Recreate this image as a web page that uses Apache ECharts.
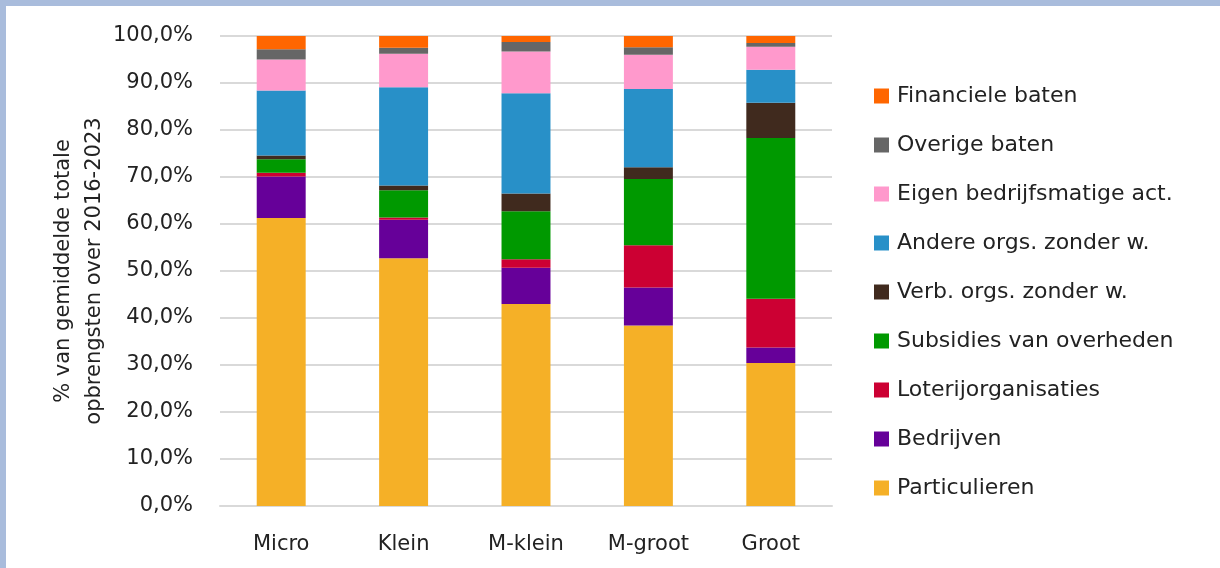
<!DOCTYPE html>
<html>
<head>
<meta charset="utf-8">
<script src="https://cdn.jsdelivr.net/npm/echarts@6/dist/echarts.min.js"></script>
<style>
html,body{margin:0;padding:0;background:#fff;}
#wrap{width:1220px;height:568px;box-sizing:border-box;border-top:6px solid #A9BCDC;border-left:6px solid #A9BCDC;position:relative;}
#chart{position:absolute;left:-6px;top:-6px;width:1220px;height:568px;}
</style>
</head>
<body>
<div id="wrap"><div id="chart"></div></div>
<script>
const categories = ['Micro', 'Klein', 'M-klein', 'M-groot', 'Groot'];
const particulieren = [61.3, 52.7, 43.0, 38.4, 30.4];
const bedrijven     = [8.8, 8.2, 7.7, 8.1, 3.3];
const loterij       = [0.8, 0.5, 1.8, 9.0, 10.4];
const subsidies     = [2.9, 5.8, 10.2, 14.1, 34.2];
const verbOrgs      = [0.8, 1.0, 3.8, 2.5, 7.5];
const andereOrgs    = [13.8, 20.9, 21.3, 16.6, 7.0];
const eigenAct      = [6.6, 7.1, 8.9, 7.3, 4.9];
const overige       = [2.2, 1.3, 2.0, 1.6, 0.8];
const financiele    = [2.8, 2.5, 1.3, 2.4, 1.5];
const yTicks = [0, 10, 20, 30, 40, 50, 60, 70, 80, 90, 100];

const seriesDefs = [
  ['Particulieren', particulieren, '#F5B027'],
  ['Bedrijven', bedrijven, '#660099'],
  ['Loterijorganisaties', loterij, '#CC0033'],
  ['Subsidies van overheden', subsidies, '#009900'],
  ['Verb. orgs. zonder w.', verbOrgs, '#402A1E'],
  ['Andere orgs. zonder w.', andereOrgs, '#2890C8'],
  ['Eigen bedrijfsmatige act.', eigenAct, '#FF99CC'],
  ['Overige baten', overige, '#666666'],
  ['Financiele baten', financiele, '#FF6600']
];

const font = 'DejaVu Sans';
const chart = echarts.init(document.getElementById('chart'));
chart.setOption({
  animation: false,
  backgroundColor: 'transparent',
  grid: { left: 220, right: 388, top: 36, bottom: 62, containLabel: false },
  legend: {
    orient: 'vertical',
    left: 869,
    top: 80,
    itemWidth: 15,
    itemHeight: 15,
    itemGap: 27,
    icon: 'rect',
    data: seriesDefs.map(s => s[0]).reverse(),
    textStyle: { fontFamily: font, fontSize: 22, color: '#222', padding: [0, 0, 0, 3] }
  },
  xAxis: {
    type: 'category',
    data: categories,
    axisLine: { show: true, lineStyle: { color: '#d9d9d9', width: 2 } },
    axisTick: { show: false },
    axisLabel: { fontFamily: font, fontSize: 21, color: '#222', margin: 28 }
  },
  yAxis: {
    type: 'value',
    min: yTicks[0],
    max: yTicks[yTicks.length - 1],
    interval: 10,
    name: '% van gemiddelde totale\nopbrengsten over 2016-2023',
    nameLocation: 'middle',
    nameGap: 110,
    nameMoveOverlap: false,
    nameRotate: 90,
    nameTextStyle: { fontFamily: font, fontSize: 21, color: '#222', lineHeight: 31 },
    axisLine: { show: false },
    axisTick: { show: false },
    splitLine: { lineStyle: { color: '#d9d9d9', width: 2 } },
    axisLabel: {
      fontFamily: font, fontSize: 21, color: '#222', margin: 27,
      formatter: v => v.toFixed(1).replace('.', ',') + '%'
    }
  },
  series: seriesDefs.map(([name, data, color]) => ({
    name, type: 'bar', stack: 'total', data,
    barWidth: '40%',
    itemStyle: { color },
    emphasis: { disabled: true }
  }))
});
</script>
</body>
</html>
